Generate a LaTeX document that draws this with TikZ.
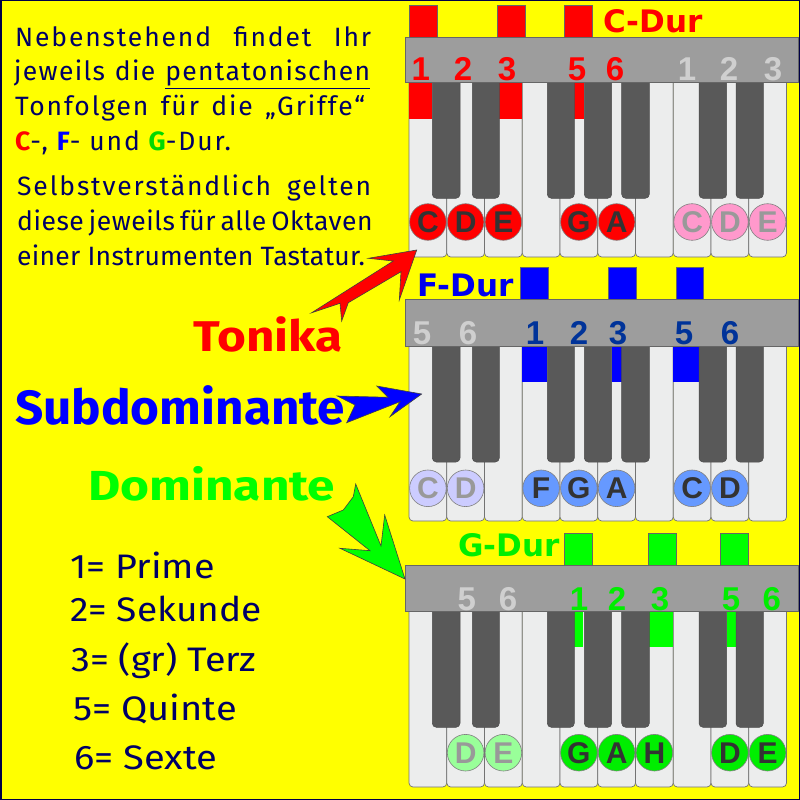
\documentclass[tikz,border=0pt]{standalone}
\usepackage{graphicx}
\usepackage{fontspec}
\setmainfont{Fira Sans}
\newfontfamily\keyfont{Liberation Sans}
\newfontfamily\titlefont{DejaVu Sans}
\newcommand\lsp[1]{\addfontfeature{LetterSpace=#1}}
\definecolor{bgyellow}{HTML}{FFFF00}
\definecolor{navy}{HTML}{000066}
\definecolor{wkeyc}{HTML}{ECEDED}
\definecolor{bkeyc}{HTML}{595959}
\definecolor{barc}{HTML}{9D9D9D}
\definecolor{cred}{HTML}{FF0000}
\definecolor{cpink}{HTML}{FF99CC}
\definecolor{cblue}{HTML}{0000FF}
\definecolor{cnblue}{HTML}{003399}
\definecolor{cfblue}{HTML}{6699FF}
\definecolor{clav}{HTML}{CCCCFF}
\definecolor{cgreen}{HTML}{00FF00}
\definecolor{cngreen}{HTML}{00EE00}
\definecolor{clgreen}{HTML}{99FF99}
\definecolor{cfaint}{HTML}{CFCFCF}
\definecolor{cletter}{HTML}{333333}
\definecolor{cgrayl}{HTML}{999999}
\tikzset{
  wkey/.style={fill=wkeyc,draw=black!55,line width=0.7pt,rounded corners=4pt},
  bkey/.style={fill=bkeyc,draw=black!70,line width=0.5pt,rounded corners=4pt},
  kbar/.style={fill=barc,draw=black!60,line width=0.8pt},
  keymark/.style={draw=black!60,line width=0.6pt},
  num/.style={anchor=base,inner sep=0pt,font=\keyfont\bfseries\fontsize{33}{33}\selectfont},
  note/.style={circle,minimum size=36.6pt,inner sep=0pt,draw=black!50,line width=0.6pt,
     text=cletter,font=\keyfont\bfseries\fontsize{30}{30}\selectfont},
  faded/.style={text=cgrayl},
  ttl/.style={anchor=base west,inner sep=0pt,font=\titlefont\bfseries\fontsize{31}{31}\selectfont},
  ltxt/.style={anchor=base west,inner sep=0pt,text=navy,font=\fontsize{26.5}{26.5}\selectfont},
  lst/.style={anchor=base west,inner sep=0pt,text=navy,font=\fontsize{34}{34}\selectfont},
  big/.style={anchor=base west,inner sep=0pt,font=\bfseries},
  arr/.style={draw=black!75,line width=0.6pt}
}
\newcommand\whitekeys[2]{%
  \foreach \i in {0,...,9}{\filldraw[wkey] ({409+\i*37.75},{#1+5}) rectangle ({409+(\i+1)*37.75},#2);}}
\newcommand\blackkeys[2]{%
  \foreach \a/\b in {432.3/460,472.3/499.3,547.3/574.3,584.3/611.7,621.7/649.3,699/726.7,736/763.3}
    {\filldraw[bkey] (\a,{#1-6}) rectangle (\b,#2);}}
\newcommand\keybar[2]{\filldraw[kbar] (405,#1) rectangle (798,#2);}
\begin{document}
\begin{tikzpicture}[x=1pt,y=-1pt]
\useasboundingbox (0,0) rectangle (800,800);
\fill[bgyellow] (0,0) rectangle (800,800);
\draw[navy!70!black,line width=1.5pt] (0.75,0.75) rectangle (799.25,799.25);

% ---------- keyboard 1: C-Dur ----------
\whitekeys{37}{257}
\fill[cred] (409.3,82) rectangle (432.3,119);
\fill[cred] (499.3,82) rectangle (522.3,119);
\fill[cred] (574.3,82) rectangle (584.3,119);
\blackkeys{82}{198.3}
\foreach \a in {409.3,497.3,564.3}{\filldraw[keymark,fill=cred] (\a,5) rectangle ({\a+28},37);}
\keybar{37}{82}
\node[ttl,text=cred] (t1) at (603,33) {C-Dur};
\foreach \x/\d [count=\k] in {420.7/1,463/2,507/3,577/5,615/6}
  {\node[num,text=cred] (kan\k) at (\x,81) {\d};}
\foreach \x/\d [count=\k] in {687/1,729/2,773/3}
  {\node[num,text=cfaint] (kag\k) at (\x,81) {\d};}
\foreach \x/\l [count=\k] in {427.9/C,465.6/D,503.4/E,578.9/G,616.6/A}
  {\node[note,fill=cred] (kac\k) at (\x,222) {\l};}
\foreach \x/\l [count=\k] in {692.1/C,729.9/D,767.6/E}
  {\node[note,faded,fill=cpink] (kaf\k) at (\x,222) {\l};}

% ---------- keyboard 2: F-Dur ----------
\whitekeys{299}{521}
\fill[cblue] (522.3,346) rectangle (547.3,382);
\fill[cblue] (611.7,346) rectangle (621.7,382);
\fill[cblue] (673.3,346) rectangle (699,382);
\blackkeys{346}{462}
\foreach \a in {520.7,608.3,676}{\filldraw[keymark,fill=cblue] (\a,267) rectangle ({\a+27.5},299);}
\keybar{299}{346}
\node[ttl,text=cblue!93!black] (t2) at (417,296) {F-Dur};
\foreach \x/\d [count=\k] in {422/5,468/6}
  {\node[num,text=cfaint] (kbg\k) at (\x,344) {\d};}
\foreach \x/\d [count=\k] in {535/1,579/2,618/3,684/5,730/6}
  {\node[num,text=cnblue] (kbn\k) at (\x,344) {\d};}
\foreach \x/\l [count=\k] in {427.9/C,465.6/D}
  {\node[note,faded,fill=clav] (kbf\k) at (\x,488.3) {\l};}
\foreach \x/\l [count=\k] in {541.1/F,578.9/G,616.6/A,692.1/C,729.9/D}
  {\node[note,fill=cfblue] (kbc\k) at (\x,488.3) {\l};}

% ---------- keyboard 3: G-Dur ----------
\whitekeys{565}{787}
\fill[cgreen] (574.3,611) rectangle (583.3,647);
\fill[cgreen] (649.3,611) rectangle (673.3,647);
\fill[cgreen] (726.7,611) rectangle (735.5,647);
\blackkeys{611}{727.3}
\foreach \a in {564.3,648.3,720}{\filldraw[keymark,fill=cgreen] (\a,533) rectangle ({\a+27.8},565);}
\keybar{565}{611}
\node[ttl,text=cngreen] (t3) at (458,556) {G-Dur};
\foreach \x/\d [count=\k] in {466.7/5,508/6}
  {\node[num,text=cfaint] (kcg\k) at (\x,610) {\d};}
\foreach \x/\d [count=\k] in {579/1,617/2,660/3,731/5,771.7/6}
  {\node[num,text=cngreen] (kcn\k) at (\x,610) {\d};}
\foreach \x/\l [count=\k] in {465.6/D,503.4/E}
  {\node[note,faded,fill=clgreen] (kcf\k) at (\x,752.7) {\l};}
\foreach \x/\l [count=\k] in {578.9/G,616.6/A,654.4/H,729.9/D,767.6/E}
  {\node[note,fill=cngreen] (kcc\k) at (\x,752.7) {\l};}

% ---------- left text ----------
\node[ltxt] (l1) at (15,46.7) {\makebox[356pt][s]{\lsp{7}Nebenstehend findet Ihr}};
\node[ltxt] (l2) at (14,81) {\makebox[356pt][s]{\lsp{5}jeweils die \underline{pentatonischen}}};
\node[ltxt] (l3) at (15,115) {\makebox[350pt][s]{\lsp{7}Tonfolgen für die „Griffe“}};
\node[ltxt] (l4) at (15,150) {\lsp{7}{\bfseries\color{cred}C}-, {\bfseries\color{cblue}F}- und {\bfseries\color{cgreen!85!black}G}-Dur.};
\node[ltxt] (l5) at (17,195) {\makebox[354pt][s]{\lsp{7}Selbstverständlich gelten}};
\node[ltxt] (l6) at (17,230) {\makebox[353pt][s]{\lsp{2}diese jeweils für alle Oktaven}};
\node[ltxt] (l7) at (17,265) {\lsp{1}einer Instrumenten Tastatur.};

\node[big,text=cred,font=\bfseries\fontsize{43}{43}\selectfont] (ton) at (193,351.7) {\scalebox{1.15}[1]{Tonika}};
\node[big,text=cblue,font=\bfseries\fontsize{48}{48}\selectfont] (sub) at (15,424) {\scalebox{1.03}[1]{Subdominante}};
\node[big,text=cgreen,font=\bfseries\fontsize{42}{42}\selectfont] (dom) at (88,500.7) {\scalebox{1.18}[1]{Dominante}};

\node[lst] (p1) at (70,578) {\scalebox{1.11}[1]{1= Prime}};
\node[lst] (p2) at (70,621.7) {\scalebox{1.09}[1]{2= Sekunde}};
\node[lst] (p3) at (71,671.7) {\scalebox{1.11}[1]{3= (gr) Terz}};
\node[lst] (p5) at (73,720) {\scalebox{1.12}[1]{5= Quinte}};
\node[lst] (p6) at (74,769) {\scalebox{1.12}[1]{6= Sexte}};

% ---------- arrows ----------
\filldraw[arr,fill=cred] (311.7,312.7) -- (340,303.3) -- (341.7,321) -- (348.3,302.7) -- (401,271.7)
  -- (399.3,300) -- (416.7,250) -- (368.3,258.3) -- (393.3,261) -- cycle;
\filldraw[arr,fill=cblue] (337.3,396) -- (388,397.3) -- (376.7,386) -- (421.7,394) -- (390,416.7)
  -- (400,401.7) -- (346.7,422.7) -- (355,405) -- cycle;
\filldraw[arr,fill=cgreen] (355.7,484) -- (381,546) -- (384.7,515) -- (405,579) -- (340,548.3)
  -- (370,550.7) -- (327.3,516.7) -- (343.3,510) -- (353.3,496.7) -- cycle;
\end{tikzpicture}
\end{document}
